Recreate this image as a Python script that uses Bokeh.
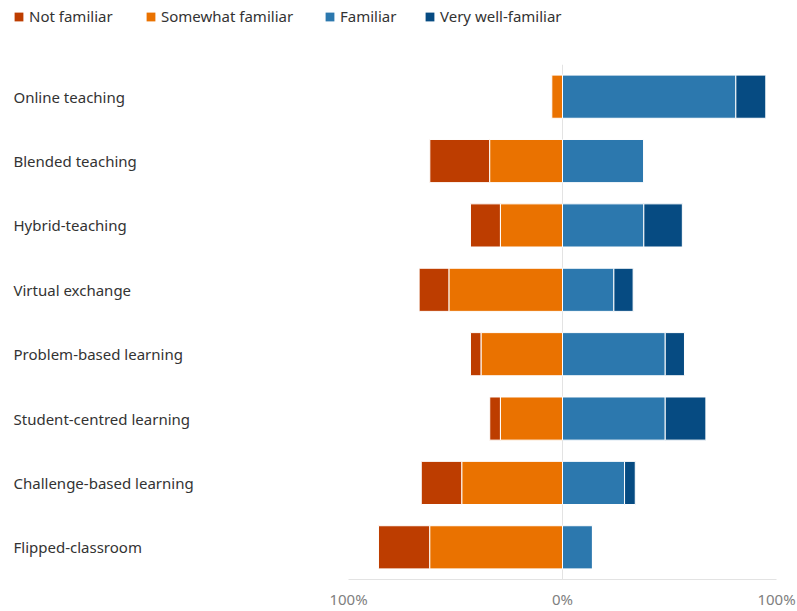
from bokeh.plotting import figure
from bokeh.layouts import column, row
from bokeh.models import ColumnDataSource, FactorRange, FixedTicker, Legend, LegendItem, Range1d
from bokeh.core.properties import value
from bokeh.embed import file_html
from bokeh.resources import INLINE

categories = ["Online teaching", "Blended teaching", "Hybrid-teaching", "Virtual exchange",
              "Problem-based learning", "Student-centred learning",
              "Challenge-based learning", "Flipped-classroom"]
not_familiar = [0, 28, 14, 14, 5, 5, 19, 24]
somewhat_familiar = [5, 34, 29, 53, 38, 29, 47, 62]
familiar = [81, 38, 38, 24, 48, 48, 29, 14]
very_familiar = [14, 0, 18, 9, 9, 19, 5, 0]
series_names = ["Not familiar", "Somewhat familiar", "Familiar", "Very well-familiar"]
colors = ["#BD3D00", "#EA7200", "#2C78AE", "#064B82"]
tick_values = [-100, 0, 100]
tick_labels = ["100%", "0%", "100%"]

FONT = "Noto Sans"
TEXT_COLOR = "#333333"

src = ColumnDataSource(dict(
    cat=categories,
    nf_l=[-(a + b) for a, b in zip(not_familiar, somewhat_familiar)],
    nf_r=[-b for b in somewhat_familiar],
    sf_l=[-b for b in somewhat_familiar],
    zero=[0] * len(categories),
    f_r=familiar,
    vf_r=[a + b for a, b in zip(familiar, very_familiar)],
    lab_x=[13] * len(categories),
))

yr = FactorRange(*reversed(categories), range_padding=0)


def clean(fig):
    fig.outline_line_color = None
    fig.background_fill_color = "white"
    fig.border_fill_color = "white"
    fig.grid.grid_line_color = None
    fig.axis.visible = False


# main chart
p = figure(width=479, height=547, output_backend="svg", toolbar_location=None,
           y_range=yr, x_range=Range1d(-100, 100),
           min_border_left=30, min_border_right=21, min_border_top=0, min_border_bottom=23)
p.outline_line_color = None
p.background_fill_color = "white"
p.border_fill_color = "white"

common = dict(y="cat", height=0.67, source=src, line_color="white", line_width=1)
r1 = p.hbar(left="nf_l", right="nf_r", fill_color=colors[0], **common)
r2 = p.hbar(left="sf_l", right="zero", fill_color=colors[1], **common)
r3 = p.hbar(left="zero", right="f_r", fill_color=colors[2], **common)
r4 = p.hbar(left="f_r", right="vf_r", fill_color=colors[3], **common)

p.xaxis.ticker = FixedTicker(ticks=tick_values)
p.xaxis.major_label_overrides = {v: l for v, l in zip(tick_values, tick_labels)}
p.xaxis.major_label_text_font = FONT
p.xaxis.major_label_text_font_size = "15px"
p.xaxis.major_label_text_color = "#808080"
p.xaxis.major_tick_line_color = None
p.xaxis.minor_tick_line_color = None
p.xaxis.axis_line_color = "#E3E3E3"
p.xaxis.major_label_standoff = 3

p.yaxis.visible = False
p.ygrid.grid_line_color = None
p.xgrid.grid_line_color = "#E3E3E3"
p.xgrid.ticker = FixedTicker(ticks=tick_values)

# category labels panel
lf = figure(width=318, height=547, output_backend="svg", toolbar_location=None,
            y_range=yr, x_range=Range1d(0, 318),
            min_border_left=0, min_border_right=0, min_border_top=0, min_border_bottom=23)
clean(lf)
lf.text(x="lab_x", y="cat", text="cat", source=src, text_align="left",
        text_baseline="middle", text_font=value(FONT), text_font_size="15px",
        text_color=TEXT_COLOR)

# legend panel (legend swatches come from off-screen proxy glyphs)
lg = figure(width=797, height=64, output_backend="svg", toolbar_location=None,
            x_range=Range1d(0, 1), y_range=Range1d(0, 1),
            min_border_left=0, min_border_right=0, min_border_top=0, min_border_bottom=0)
clean(lg)
legend_x = [13, 145, 324, 424]
for name, c, lx in zip(series_names, colors, legend_x):
    proxy = lg.hbar(y=[10], left=[10], right=[11], height=1, fill_color=c, line_color=None)
    leg = Legend(items=[LegendItem(label=name, renderers=[proxy])],
                 orientation="horizontal", location=(lx, 38),
                 label_text_font=FONT, label_text_font_size="15px", label_text_color=TEXT_COLOR,
                 glyph_width=11, glyph_height=11, label_standoff=5,
                 padding=0, margin=0, border_line_color=None,
                 background_fill_alpha=0)
    lg.add_layout(leg)

layout = column(lg, row(lf, p, spacing=0), spacing=0)
open("out.html", "w").write(file_html(layout, INLINE))
